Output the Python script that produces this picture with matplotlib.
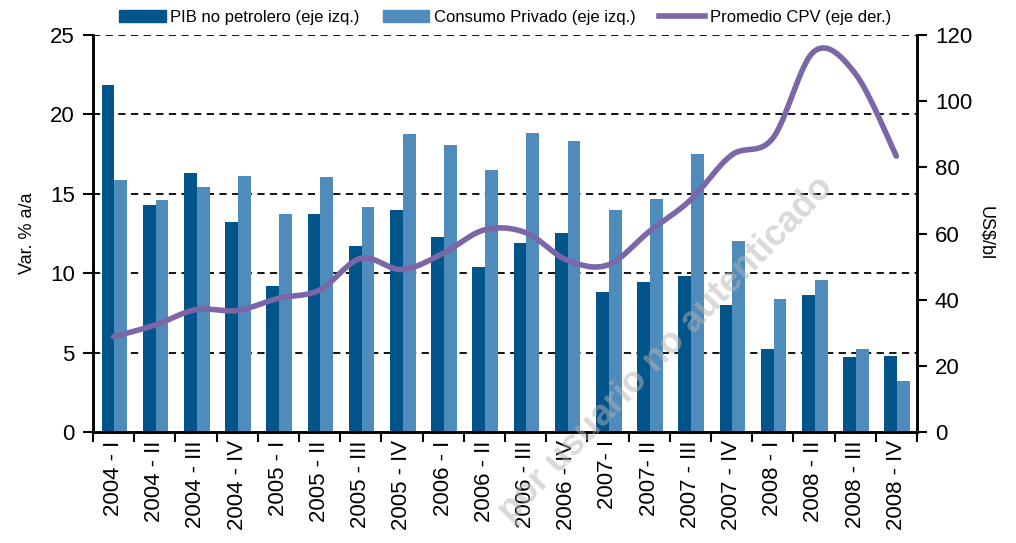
"""Non-oil GDP, private consumption and oil price, 2004-2008 (quarterly)."""
import matplotlib.pyplot as plt
import numpy as np
from matplotlib.lines import Line2D
from matplotlib.patches import Patch

plt.rcParams["font.family"] = ["Liberation Sans", "DejaVu Sans"]

quarters = [
    "2004 - I", "2004 - II", "2004 - III", "2004 - IV",
    "2005 - I", "2005 - II", "2005 - III", "2005 - IV",
    "2006 - I", "2006 - II", "2006 - III", "2006 - IV",
    "2007- I", "2007- II", "2007 - III", "2007 - IV",
    "2008 - I", "2008 - II", "2008 - III", "2008 - IV",
]
pib_no_petrolero = [21.85, 14.3, 16.3, 13.2, 9.2, 13.7, 11.7, 14.0,
                    12.3, 10.4, 11.9, 12.55, 8.8, 9.45, 9.85, 8.0,
                    5.2, 8.6, 4.7, 4.8]
consumo_privado = [15.85, 14.6, 15.45, 16.15, 13.7, 16.05, 14.2, 18.75,
                   18.1, 16.5, 18.85, 18.3, 14.0, 14.7, 17.5, 12.0,
                   8.4, 9.55, 5.2, 3.2]
promedio_cpv = [28.8, 32.3, 37.0, 36.7, 40.4, 42.9, 52.5, 49.1,
                54.0, 61.1, 60.3, 52.0, 50.5, 60.6, 70.1, 83.7,
                88.8, 115.0, 108.4, 83.4]

DARK = "#02558B"
LIGHT = "#4F8CBB"
PURPLE = "#7B66A8"


def smooth(xs, ys, n=30):
    # Excel-style smoothed line (Catmull-Rom through the points)
    p = np.column_stack([xs, ys]).astype(float)
    p = np.vstack([p[0], p, p[-1]])
    out = []
    for i in range(1, len(p) - 2):
        p0, p1, p2, p3 = p[i - 1], p[i], p[i + 1], p[i + 2]
        c1 = p1 + (p2 - p0) / 6
        c2 = p2 - (p3 - p1) / 6
        t = np.linspace(0, 1, n)[:, None]
        seg = ((1 - t) ** 3) * p1 + 3 * ((1 - t) ** 2) * t * c1 + 3 * (1 - t) * t ** 2 * c2 + t ** 3 * p2
        out.append(seg if i == 1 else seg[1:])
    s = np.vstack(out)
    return s[:, 0], s[:, 1]


fig = plt.figure(figsize=(10.16, 5.43), dpi=100)
ax = fig.add_axes([0.0915, 0.2044, 0.811, 0.7311])

x = np.arange(len(quarters))
w = 0.31
ax.bar(x - w / 2 + 0.02, pib_no_petrolero, w, color=DARK, zorder=2)
ax.bar(x + w / 2 + 0.02, consumo_privado, w, color=LIGHT, zorder=2)

ax.set_xlim(-0.5, len(quarters) - 0.5)
ax.set_ylim(0, 25)
ax.set_yticks(range(0, 26, 5))
for v in range(5, 26, 5):
    ax.axhline(v, color="black", lw=1.3, ls=(0, (4, 3)), zorder=1)

ax.set_xticks(np.arange(-0.5, len(quarters)), minor=False)
ax.set_xticklabels([])
ax.set_xticks(x, minor=True)
ax.set_xticklabels(quarters, minor=True, rotation=90, fontsize=16)
ax.tick_params(axis="x", which="major", direction="out", length=7, width=1.5)
ax.tick_params(axis="x", which="minor", length=0, pad=6)
ax.tick_params(axis="y", direction="out", length=7, width=1.5, labelsize=16, pad=6)
ax.set_ylabel("Var. % a/a", fontsize=13, labelpad=10)

for side in ["left", "right", "bottom"]:
    ax.spines[side].set_linewidth(1.8)
ax.spines["top"].set_visible(False)

ax2 = ax.twinx()
sx, sy = smooth(x, promedio_cpv)
ax2.plot(sx, sy, color=PURPLE, lw=4, solid_capstyle="round", zorder=3)
ax2.set_ylim(0, 120)
ax2.set_yticks(range(0, 121, 20))
ax2.tick_params(axis="y", direction="out", length=7, width=1.5, labelsize=16, pad=6)
ax2.set_ylabel("US$/bl", fontsize=13, rotation=270, labelpad=16)
for side in ["left", "right", "bottom"]:
    ax2.spines[side].set_linewidth(1.8)
ax2.spines["top"].set_visible(False)

handles = [
    Patch(color=DARK, label="PIB no petrolero (eje izq.)"),
    Patch(color=LIGHT, label="Consumo Privado (eje izq.)"),
    Line2D([], [], color=PURPLE, lw=4, label="Promedio CPV (eje der.)"),
]
fig.legend(handles=handles, loc="center", bbox_to_anchor=(0.497, 0.968), ncol=3,
           frameon=False, fontsize=12, handlelength=2.8, handleheight=0.75,
           handletextpad=0.25, columnspacing=1.4)

# faint diagonal watermark
fig.text(0.815, 0.665, "por usuario no autenticado", fontsize=26,
         fontweight="bold", color="#b4b4b4", alpha=0.5, rotation=46,
         rotation_mode="anchor", ha="right", va="center", zorder=10)

fig.savefig("out.png", dpi=100)
